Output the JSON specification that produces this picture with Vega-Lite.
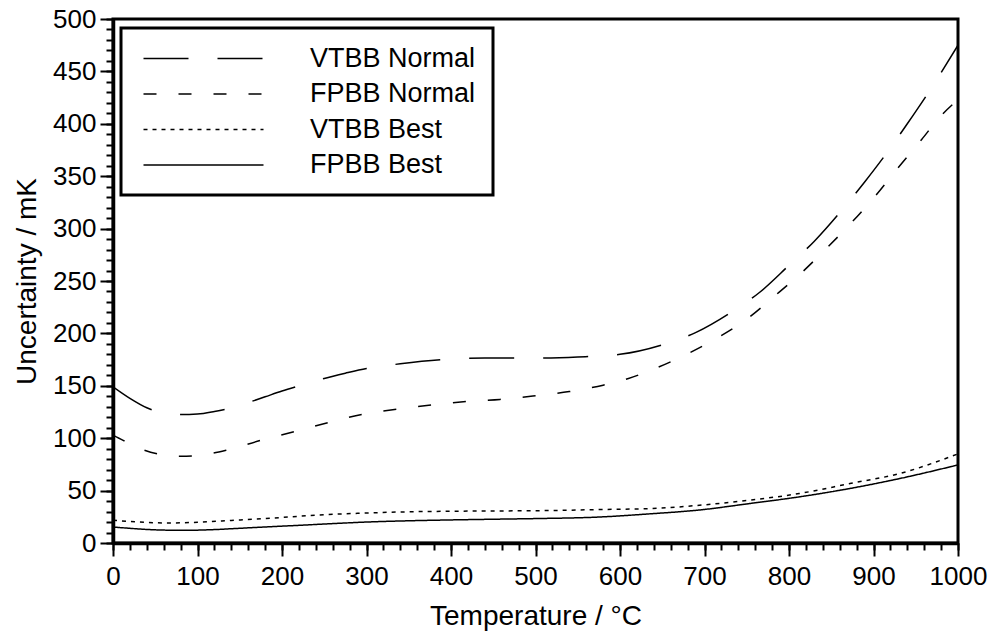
{
  "$schema": "https://vega.github.io/schema/vega-lite/v6.json",
  "width": 845,
  "height": 524,
  "autosize": {"type": "none"},
  "padding": {"left": 113, "top": 19, "right": 34, "bottom": 100},
  "background": "white",
  "config": {
    "font": "Liberation Sans",
    "view": {"stroke": "black", "strokeWidth": 3}
  },
  "datasets": {
    "curves": [
      {"t": 0, "u": 149, "s": "VTBB Normal"}, {"t": 20, "u": 138, "s": "VTBB Normal"}, {"t": 40, "u": 129, "s": "VTBB Normal"}, {"t": 60, "u": 124, "s": "VTBB Normal"}, {"t": 80, "u": 122.5, "s": "VTBB Normal"}, {"t": 100, "u": 123, "s": "VTBB Normal"}, {"t": 120, "u": 125.5, "s": "VTBB Normal"}, {"t": 140, "u": 129, "s": "VTBB Normal"}, {"t": 160, "u": 134, "s": "VTBB Normal"}, {"t": 180, "u": 139.5, "s": "VTBB Normal"}, {"t": 200, "u": 145, "s": "VTBB Normal"}, {"t": 225, "u": 151, "s": "VTBB Normal"}, {"t": 250, "u": 157, "s": "VTBB Normal"}, {"t": 275, "u": 162, "s": "VTBB Normal"}, {"t": 300, "u": 166.5, "s": "VTBB Normal"}, {"t": 340, "u": 171, "s": "VTBB Normal"}, {"t": 390, "u": 175, "s": "VTBB Normal"}, {"t": 440, "u": 176.5, "s": "VTBB Normal"}, {"t": 500, "u": 176.5, "s": "VTBB Normal"}, {"t": 550, "u": 177.5, "s": "VTBB Normal"}, {"t": 600, "u": 180, "s": "VTBB Normal"}, {"t": 650, "u": 189, "s": "VTBB Normal"}, {"t": 690, "u": 201, "s": "VTBB Normal"}, {"t": 735, "u": 222, "s": "VTBB Normal"}, {"t": 765, "u": 239, "s": "VTBB Normal"}, {"t": 800, "u": 265, "s": "VTBB Normal"}, {"t": 830, "u": 288, "s": "VTBB Normal"}, {"t": 865, "u": 320, "s": "VTBB Normal"}, {"t": 890, "u": 345, "s": "VTBB Normal"}, {"t": 920, "u": 377, "s": "VTBB Normal"}, {"t": 940, "u": 400, "s": "VTBB Normal"}, {"t": 970, "u": 436, "s": "VTBB Normal"}, {"t": 1000, "u": 475, "s": "VTBB Normal"},
      {"t": 0, "u": 103, "s": "FPBB Normal"}, {"t": 12, "u": 98, "s": "FPBB Normal"}, {"t": 37, "u": 88.5, "s": "FPBB Normal"}, {"t": 60, "u": 84, "s": "FPBB Normal"}, {"t": 80, "u": 82.8, "s": "FPBB Normal"}, {"t": 100, "u": 83.5, "s": "FPBB Normal"}, {"t": 134, "u": 88.5, "s": "FPBB Normal"}, {"t": 175, "u": 98, "s": "FPBB Normal"}, {"t": 217, "u": 106.7, "s": "FPBB Normal"}, {"t": 260, "u": 116, "s": "FPBB Normal"}, {"t": 300, "u": 123.6, "s": "FPBB Normal"}, {"t": 343, "u": 128.3, "s": "FPBB Normal"}, {"t": 383, "u": 132.2, "s": "FPBB Normal"}, {"t": 422, "u": 135.3, "s": "FPBB Normal"}, {"t": 458, "u": 137, "s": "FPBB Normal"}, {"t": 500, "u": 140.5, "s": "FPBB Normal"}, {"t": 540, "u": 144.5, "s": "FPBB Normal"}, {"t": 580, "u": 150.6, "s": "FPBB Normal"}, {"t": 610, "u": 157, "s": "FPBB Normal"}, {"t": 637, "u": 165, "s": "FPBB Normal"}, {"t": 675, "u": 178.6, "s": "FPBB Normal"}, {"t": 714, "u": 195.2, "s": "FPBB Normal"}, {"t": 750, "u": 213.6, "s": "FPBB Normal"}, {"t": 782, "u": 235, "s": "FPBB Normal"}, {"t": 815, "u": 258, "s": "FPBB Normal"}, {"t": 845, "u": 281.7, "s": "FPBB Normal"}, {"t": 875, "u": 306.6, "s": "FPBB Normal"}, {"t": 903, "u": 332, "s": "FPBB Normal"}, {"t": 929, "u": 358, "s": "FPBB Normal"}, {"t": 957, "u": 385, "s": "FPBB Normal"}, {"t": 978, "u": 406, "s": "FPBB Normal"}, {"t": 1000, "u": 423, "s": "FPBB Normal"},
      {"t": 0, "u": 21.7, "s": "VTBB Best"}, {"t": 30, "u": 20, "s": "VTBB Best"}, {"t": 63, "u": 19.1, "s": "VTBB Best"}, {"t": 100, "u": 19.8, "s": "VTBB Best"}, {"t": 140, "u": 21.5, "s": "VTBB Best"}, {"t": 180, "u": 23.3, "s": "VTBB Best"}, {"t": 220, "u": 25.5, "s": "VTBB Best"}, {"t": 260, "u": 27.4, "s": "VTBB Best"}, {"t": 300, "u": 28.6, "s": "VTBB Best"}, {"t": 340, "u": 29.6, "s": "VTBB Best"}, {"t": 400, "u": 30.3, "s": "VTBB Best"}, {"t": 460, "u": 30.6, "s": "VTBB Best"}, {"t": 520, "u": 31, "s": "VTBB Best"}, {"t": 580, "u": 32, "s": "VTBB Best"}, {"t": 635, "u": 32.8, "s": "VTBB Best"}, {"t": 694, "u": 36, "s": "VTBB Best"}, {"t": 753, "u": 40.8, "s": "VTBB Best"}, {"t": 812, "u": 47.2, "s": "VTBB Best"}, {"t": 872, "u": 56.7, "s": "VTBB Best"}, {"t": 931, "u": 66.3, "s": "VTBB Best"}, {"t": 1000, "u": 85, "s": "VTBB Best"},
      {"t": 0, "u": 15.3, "s": "FPBB Best"}, {"t": 20, "u": 14, "s": "FPBB Best"}, {"t": 43, "u": 12.8, "s": "FPBB Best"}, {"t": 83, "u": 12.1, "s": "FPBB Best"}, {"t": 120, "u": 12.8, "s": "FPBB Best"}, {"t": 142, "u": 13.7, "s": "FPBB Best"}, {"t": 180, "u": 15.3, "s": "FPBB Best"}, {"t": 221, "u": 16.9, "s": "FPBB Best"}, {"t": 260, "u": 18.5, "s": "FPBB Best"}, {"t": 300, "u": 20, "s": "FPBB Best"}, {"t": 340, "u": 21, "s": "FPBB Best"}, {"t": 379, "u": 21.7, "s": "FPBB Best"}, {"t": 420, "u": 22.3, "s": "FPBB Best"}, {"t": 460, "u": 22.8, "s": "FPBB Best"}, {"t": 500, "u": 23.3, "s": "FPBB Best"}, {"t": 576, "u": 24.8, "s": "FPBB Best"}, {"t": 635, "u": 27.8, "s": "FPBB Best"}, {"t": 694, "u": 31.5, "s": "FPBB Best"}, {"t": 753, "u": 37.6, "s": "FPBB Best"}, {"t": 812, "u": 44, "s": "FPBB Best"}, {"t": 872, "u": 52, "s": "FPBB Best"}, {"t": 931, "u": 61.5, "s": "FPBB Best"}, {"t": 1000, "u": 74.5, "s": "FPBB Best"}
    ]
  },
  "data": {"name": "curves"},
  "resolve": {"axis": {"x": "independent", "y": "independent"}},
  "layer": [
    {
      "mark": {"type": "line", "opacity": 0, "clip": true},
      "encoding": {
        "x": {
          "field": "t", "type": "quantitative",
          "scale": {"domain": [0, 1000], "nice": false, "zero": false},
          "axis": {
            "orient": "bottom",
            "title": null,
            "labels": false,
            "domain": false,
            "grid": false,
            "values": [0,20,40,60,80,100,120,140,160,180,200,220,240,260,280,300,320,340,360,380,400,420,440,460,480,500,520,540,560,580,600,620,640,660,680,700,720,740,760,780,800,820,840,860,880,900,920,940,960,980,1000],
            "tickColor": "black",
            "tickWidth": 2,
            "tickSize": 7
          }
        },
        "y": {
          "field": "u", "type": "quantitative",
          "scale": {"domain": [0, 500], "nice": false},
          "axis": {
            "orient": "left",
            "title": null,
            "labels": false,
            "domain": false,
            "grid": false,
            "values": [0,10,20,30,40,50,60,70,80,90,100,110,120,130,140,150,160,170,180,190,200,210,220,230,240,250,260,270,280,290,300,310,320,330,340,350,360,370,380,390,400,410,420,430,440,450,460,470,480,490,500],
            "tickColor": "black",
            "tickWidth": 2,
            "tickSize": 7
          }
        }
      }
    },
    {
      "mark": {"type": "line", "color": "black", "strokeWidth": 1.5, "interpolate": "monotone", "clip": true},
      "encoding": {
        "x": {
          "field": "t", "type": "quantitative",
          "axis": {
            "orient": "bottom",
            "title": "Temperature / °C",
            "values": [0,100,200,300,400,500,600,700,800,900,1000],
            "format": "d",
            "labelOverlap": false,
            "labelFlush": false,
            "labelFontSize": 26,
            "labelColor": "black",
            "labelPadding": 7,
            "titleFontSize": 28,
            "titleFontWeight": "normal",
            "titleColor": "black",
            "titlePadding": 13,
            "domainColor": "black",
            "domainWidth": 3.5,
            "tickColor": "black",
            "tickWidth": 2,
            "tickSize": 13,
            "grid": false
          }
        },
        "y": {
          "field": "u", "type": "quantitative",
          "axis": {
            "orient": "left",
            "title": "Uncertainty / mK",
            "values": [0,50,100,150,200,250,300,350,400,450,500],
            "format": "d",
            "labelOverlap": false,
            "labelFlush": false,
            "labelFontSize": 26,
            "labelColor": "black",
            "labelPadding": 4,
            "titleFontSize": 28,
            "titleFontWeight": "normal",
            "titleColor": "black",
            "titlePadding": 11,
            "domainColor": "black",
            "domainWidth": 3.5,
            "tickColor": "black",
            "tickWidth": 2,
            "tickSize": 13,
            "grid": false
          }
        },
        "strokeDash": {
          "field": "s", "type": "nominal",
          "scale": {
            "domain": ["VTBB Normal", "FPBB Normal", "VTBB Best", "FPBB Best"],
            "range": [[45, 29], [13, 22], [4, 5], [1, 0]]
          },
          "legend": {
            "title": null,
            "orient": "none",
            "legendX": 8,
            "legendY": 9,
            "symbolType": "M0,0H12",
            "symbolSize": 400,
            "symbolStrokeColor": "black",
            "symbolStrokeWidth": 1.5,
            "symbolOffset": -8,
            "labelOffset": 153,
            "labelFontSize": 27,
            "labelColor": "black",
            "labelLimit": 400,
            "rowPadding": 7.5,
            "padding": 17,
            "strokeColor": "black",
            "fillColor": "white",
            "encode": {"legend": {"update": {"strokeWidth": {"value": 3}}}}
          }
        }
      }
    }
  ]
}
